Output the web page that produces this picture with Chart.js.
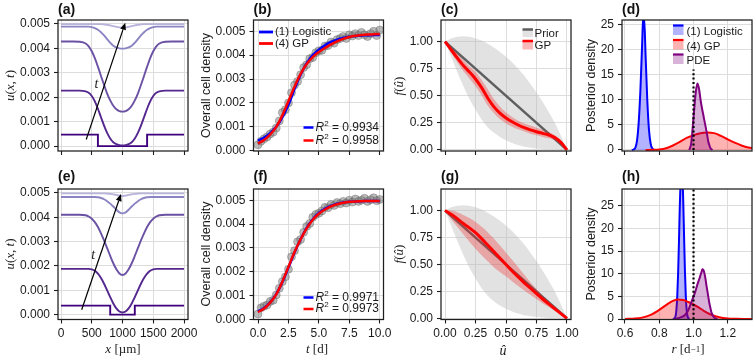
<!DOCTYPE html>
<html><head><meta charset="utf-8">
<script src="https://cdn.jsdelivr.net/npm/chart.js@4.4.0/dist/chart.umd.min.js"></script>
<style>
html,body{margin:0;padding:0;background:#fff;}
#wrap{position:relative;width:756px;height:359px;overflow:hidden;background:#fff;}
canvas{position:absolute;left:0;top:0;}
</style></head><body><div id="wrap">
<canvas id="ca" width="756" height="359"></canvas>
<canvas id="cb" width="756" height="359"></canvas>
<canvas id="cc" width="756" height="359"></canvas>
<canvas id="cd" width="756" height="359"></canvas>
<canvas id="ce" width="756" height="359"></canvas>
<canvas id="cf" width="756" height="359"></canvas>
<canvas id="cg" width="756" height="359"></canvas>
<canvas id="ch" width="756" height="359"></canvas>
</div>
<script>
// ---------------- data ----------------
const pdeX = [0,200,300,400,450,500,550,600,650,700,750,800,850,900,950,1000,1050,1100,1150,1200,1250,1300,1350,1400,1450,1500,1550,1600,1700,1800,2000];
const stepAX = [0,600,600,1400,1400,2000];
const stepAY = [0.00047,0.00047,0,0,0.00047,0.00047];
const a2 = [0.00227,0.00227,0.00227,0.00224,0.00218,0.00205,0.00183,0.00153,0.00118,0.00084,0.00054,0.00031,0.00016,0.00008,0.00004,0.00003,0.00004,0.00008,0.00016,0.00031,0.00054,0.00084,0.00118,0.00153,0.00183,0.00205,0.00218,0.00224,0.00227,0.00227,0.00227];
const a3 = [0.00428,0.00428,0.00427,0.00420,0.00408,0.00388,0.00360,0.00325,0.00287,0.00250,0.00215,0.00187,0.00165,0.00151,0.00143,0.00141,0.00143,0.00151,0.00165,0.00187,0.00215,0.00250,0.00287,0.00325,0.00360,0.00388,0.00408,0.00420,0.00427,0.00428,0.00428];
const a4 = [0.00489,0.00489,0.00489,0.00489,0.00489,0.00487,0.00483,0.00476,0.00466,0.00453,0.00438,0.00423,0.00411,0.00404,0.00400,0.00399,0.00400,0.00404,0.00411,0.00423,0.00438,0.00453,0.00466,0.00476,0.00483,0.00487,0.00489,0.00489,0.00489,0.00489,0.00489];
const a5 = [0.00499,0.00499,0.00499,0.00499,0.00499,0.00499,0.00499,0.00499,0.00499,0.00498,0.00496,0.00494,0.00491,0.00488,0.00486,0.00485,0.00486,0.00488,0.00491,0.00494,0.00496,0.00498,0.00499,0.00499,0.00499,0.00499,0.00499,0.00499,0.00499,0.00499,0.00499];
const stepEX = [0,800,800,1200,1200,2000];
const stepEY = [0.00037,0.00037,0,0,0.00037,0.00037];
const e2 = [0.00188,0.00188,0.00188,0.00188,0.00188,0.00186,0.00180,0.00168,0.00150,0.00127,0.00100,0.00072,0.00046,0.00026,0.00013,0.00009,0.00013,0.00026,0.00046,0.00072,0.00100,0.00127,0.00150,0.00168,0.00180,0.00186,0.00188,0.00188,0.00188,0.00188,0.00188];
const e3 = [0.00410,0.00410,0.00410,0.00408,0.00403,0.00394,0.00380,0.00360,0.00334,0.00305,0.00273,0.00241,0.00211,0.00186,0.00169,0.00163,0.00169,0.00186,0.00211,0.00241,0.00273,0.00305,0.00334,0.00360,0.00380,0.00394,0.00403,0.00408,0.00410,0.00410,0.00410];
const e4 = [0.00483,0.00483,0.00483,0.00483,0.00483,0.00483,0.00483,0.00482,0.00479,0.00474,0.00466,0.00456,0.00444,0.00431,0.00420,0.00416,0.00420,0.00431,0.00444,0.00456,0.00466,0.00474,0.00479,0.00482,0.00483,0.00483,0.00483,0.00483,0.00483,0.00483,0.00483];
const e5 = [0.00498,0.00498,0.00498,0.00498,0.00498,0.00498,0.00498,0.00498,0.00498,0.00498,0.00497,0.00496,0.00494,0.00492,0.00489,0.00487,0.00489,0.00492,0.00494,0.00496,0.00497,0.00498,0.00498,0.00498,0.00498,0.00498,0.00498,0.00498,0.00498,0.00498,0.00498];
const arrowAX = [410,1045], arrowAY = [0.00027,0.00505], tLabelA = [575,0.00253];
const arrowEX = [336,975], arrowEY = [0.0002,0.00495], tLabelE = [525,0.00245];

const obsT = [0,0.25,0.5,0.75,1,1.25,1.5,1.75,2,2.25,2.5,2.75,3,3.25,3.5,3.75,4,4.25,4.5,4.75,5,5.25,5.5,5.75,6,6.25,6.5,6.75,7,7.25,7.5,7.75,8,8.25,8.5,8.75,9,9.25,9.5,9.75,10];
const obsB = [0.00025,0.00040,0.00050,0.00058,0.00070,0.00078,0.00095,0.00125,0.00160,0.00172,0.00200,0.00243,0.00275,0.00290,0.00318,0.00348,0.00360,0.00385,0.00390,0.00410,0.00418,0.00420,0.00438,0.00440,0.00455,0.00450,0.00465,0.00470,0.00478,0.00470,0.00485,0.00480,0.00490,0.00482,0.00495,0.00485,0.00478,0.00490,0.00500,0.00482,0.00505];
const obsF = [0.00022,0.00048,0.00055,0.00060,0.00075,0.00080,0.00102,0.00130,0.00158,0.00178,0.00210,0.00262,0.00288,0.00325,0.00335,0.00365,0.00390,0.00402,0.00428,0.00440,0.00445,0.00455,0.00470,0.00468,0.00482,0.00478,0.00490,0.00485,0.00495,0.00488,0.00500,0.00492,0.00505,0.00495,0.00500,0.00508,0.00495,0.00502,0.00510,0.00498,0.00503];
const fitT = [0,0.5,1,1.5,2,2.5,3,3.5,4,4.5,5,5.5,6,6.5,7,7.5,8,8.5,9,9.5,10];
const logB = [0.00042,0.00055,0.00074,0.00100,0.00140,0.00192,0.00258,0.00318,0.00366,0.00400,0.00423,0.00441,0.00455,0.00465,0.00472,0.00477,0.00480,0.00482,0.00483,0.00484,0.00484];
const gpB = [0.00030,0.00045,0.00068,0.00100,0.00148,0.00207,0.00268,0.00322,0.00363,0.00392,0.00413,0.00430,0.00445,0.00458,0.00468,0.00476,0.00481,0.00484,0.00486,0.00487,0.00488];
const logF = [0.00033,0.00047,0.00071,0.00106,0.00156,0.00217,0.00280,0.00336,0.00384,0.00420,0.00446,0.00464,0.00476,0.00485,0.00490,0.00493,0.00495,0.00496,0.00497,0.00497,0.00497];
const gpF = [0.00030,0.00045,0.00070,0.00105,0.00158,0.00220,0.00282,0.00336,0.00382,0.00418,0.00443,0.00461,0.00474,0.00483,0.00489,0.00493,0.00495,0.00496,0.00497,0.00497,0.00497];
const r2B = ['0.9934','0.9958'];
const r2F = ['0.9971','0.9973'];

const uGrid = [0,0.05,0.1,0.15,0.2,0.25,0.3,0.35,0.4,0.45,0.5,0.55,0.6,0.65,0.7,0.75,0.8,0.85,0.9,0.95,1];
const priorUp = [1.0,1.03,1.045,1.05,1.045,1.03,1.01,0.98,0.945,0.905,0.86,0.81,0.75,0.685,0.61,0.53,0.445,0.35,0.25,0.13,0.0];
const priorLo = [1.0,0.86,0.72,0.59,0.47,0.37,0.28,0.21,0.16,0.12,0.09,0.065,0.045,0.03,0.02,0.013,0.008,0.005,0.003,0.001,0.0];
const priorU = [0,1], priorF = [1,0];
const gpC = [1.0,0.925,0.85,0.78,0.72,0.655,0.575,0.48,0.40,0.34,0.295,0.26,0.23,0.205,0.185,0.168,0.153,0.138,0.115,0.07,0.0];
const gpCUp = [1.0,0.95,0.89,0.83,0.77,0.72,0.645,0.56,0.47,0.40,0.345,0.305,0.27,0.245,0.225,0.205,0.185,0.165,0.135,0.085,0.0];
const gpCLo = [1.0,0.9,0.81,0.73,0.66,0.59,0.505,0.41,0.34,0.285,0.245,0.215,0.19,0.17,0.15,0.135,0.12,0.108,0.09,0.055,0.0];
const gpG = [1.0,0.965,0.925,0.88,0.84,0.795,0.74,0.68,0.62,0.56,0.50,0.44,0.385,0.33,0.28,0.23,0.18,0.135,0.09,0.045,0.0];
const gpGUp = [1.0,1.0,0.985,0.96,0.93,0.895,0.85,0.8,0.74,0.675,0.61,0.545,0.475,0.405,0.335,0.27,0.21,0.155,0.1,0.05,0.0];
const gpGLo = [1.0,0.92,0.85,0.78,0.71,0.645,0.585,0.53,0.475,0.43,0.39,0.345,0.3,0.26,0.22,0.18,0.14,0.105,0.07,0.035,0.0];

const dBlueR = [0.64,0.65,0.66,0.67,0.68,0.69,0.70,0.707,0.715,0.72,0.73,0.74,0.75,0.76,0.77];
const dBlueD = [0,0.1,0.4,1.8,5.5,12,21,27,24,19,10,4,1.2,0.3,0];
const dRedR = [0.72,0.76,0.8,0.84,0.88,0.92,0.96,1.0,1.04,1.08,1.12,1.16,1.2,1.24,1.28,1.32,1.36,1.4];
const dRedD = [0,0.03,0.1,0.35,0.9,1.6,2.4,2.95,3.35,3.5,3.35,2.8,2.1,1.45,0.9,0.5,0.3,0.15];
const dPurR = [0.975,0.985,0.995,1.008,1.016,1.024,1.033,1.041,1.05,1.057,1.065,1.072,1.08,1.086,1.094,1.1,1.11];
const dPurD = [0,1.0,4.4,9.7,12.2,13.2,12,10,8.2,7,5.6,4.4,2.9,1.7,0.8,0.3,0];
const hBlueR = [0.88,0.89,0.895,0.9,0.905,0.91,0.915,0.92,0.925,0.93,0.935,0.94,0.945,0.95,0.955,0.96,0.965,0.975];
const hBlueD = [0,0.2,0.6,2,5,10,17,25,31,34,32,26,18,10.5,5,2,0.6,0];
const hRedR = [0.6,0.65,0.7,0.75,0.8,0.85,0.88,0.91,0.94,0.97,1.0,1.03,1.06,1.1,1.15,1.2,1.25,1.3,1.36];
const hRedD = [0.02,0.08,0.3,0.9,2.0,3.35,4.0,4.3,4.2,3.75,3.2,2.55,1.8,1.0,0.4,0.12,0.04,0.01,0];
const hPurR = [0.89,0.92,0.95,0.97,0.99,1.01,1.02,1.035,1.045,1.053,1.06,1.068,1.076,1.085,1.092,1.1,1.105,1.115,1.125,1.14];
const hPurD = [0,0.3,0.9,2.0,4.0,6.0,7.3,9.0,10.2,11.0,10.6,9.3,7.3,5.2,3.6,2.2,1.4,0.6,0.2,0];
const refDX = [1,1], refDY = [0,16];
const refHX = [1,1], refHY = [-1,30];

// ticks
const xTicksA = [0,500,1000,1500,2000], xLabA = ['0','500','1000','1500','2000'];
const yTicksA = [0,0.001,0.002,0.003,0.004,0.005], yLabA = ['0.000','0.001','0.002','0.003','0.004','0.005'];
const xTicksB = [0,2.5,5,7.5,10], xLabB = ['0.0','2.5','5.0','7.5','10.0'];
const xTicksC = [0,0.25,0.5,0.75,1], xLabC = ['0.00','0.25','0.50','0.75','1.00'];
const yTicksC = [0,0.25,0.5,0.75,1], yLabC = ['0.00','0.25','0.50','0.75','1.00'];
const xTicksD = [0.6,0.8,1.0,1.2], xLabD = ['0.6','0.8','1.0','1.2'];
const yTicksD = [0,5,10,15,20,25], yLabD = ['0','5','10','15','20','25'];

// ---------------- style ----------------
const SANS = '"Liberation Sans", Arial, Helvetica, sans-serif';
const SERIF = '"Liberation Serif", "Times New Roman", serif';
const GRID = '#dddddd', FRAME = '#1e1e1e', TXT = '#1a1a1a';
const TICKFONT = 12;
const purples = ['#3f007d','#54278f','#6a51a3','#8a84c3','#b7b3da'];
const BLUE = '#0000ff', RED = '#ff0000', PURPLE = '#800080';
const BLUEF = 'rgba(0,0,255,0.3)', REDF = 'rgba(255,0,0,0.3)', PURF = 'rgba(128,0,128,0.3)';

const pts = (xs, ys) => xs.map((x, i) => ({x: x, y: ys[i]}));
function line(xs, ys, color, width, order, extra) {
  return Object.assign({data: pts(xs, ys), borderColor: color, borderWidth: width, pointRadius: 0,
    fill: false, order: order, cubicInterpolationMode: 'monotone'}, extra || {});
}
function band(xs, ys, col, order, fill) {
  return {data: pts(xs, ys), borderColor: 'rgba(0,0,0,0)', borderWidth: 0, pointRadius: 0,
    fill: fill, backgroundColor: col, order: order, cubicInterpolationMode: 'monotone'};
}

function rich(ctx, segs, x, y, rot, align) {
  ctx.save();
  ctx.translate(x, y);
  if (rot) ctx.rotate(rot);
  let w = 0;
  segs.forEach(s => { ctx.font = s.f; s.w = ctx.measureText(s.t).width; w += s.w; });
  let cx = align === 'left' ? 0 : (align === 'right' ? -w : -w / 2);
  ctx.textBaseline = 'middle'; ctx.textAlign = 'left';
  segs.forEach(s => { ctx.font = s.f; ctx.fillStyle = s.c || TXT; ctx.fillText(s.t, cx, s.dy || 0); cx += s.w; });
  ctx.restore();
}
const it = (s, n) => ({t: s, f: 'italic ' + (n || 13) + 'px ' + SERIF});
const up = (s, n) => ({t: s, f: (n || 13) + 'px ' + SERIF});
const sans = (s, n) => ({t: s, f: (n || 12) + 'px ' + SANS});

function panelLabel(ctx, s, x, y) {
  ctx.save(); ctx.font = 'bold 14px ' + SANS; ctx.fillStyle = '#111';
  ctx.textBaseline = 'middle'; ctx.textAlign = 'left'; ctx.fillText(s, x, y); ctx.restore();
}
function lineHandle(ctx, x0, x1, y, col, w) {
  ctx.save(); ctx.strokeStyle = col; ctx.lineWidth = w; ctx.beginPath(); ctx.moveTo(x0, y); ctx.lineTo(x1, y); ctx.stroke(); ctx.restore();
}
function patchHandle(ctx, x0, x1, y0, y1, fillCol, lineCol, w) {
  ctx.save(); ctx.fillStyle = fillCol; ctx.fillRect(x0, y0, x1 - x0, y1 - y0);
  ctx.strokeStyle = lineCol; ctx.lineWidth = w; ctx.beginPath(); ctx.moveTo(x0, y0); ctx.lineTo(x1, y0); ctx.stroke(); ctx.restore();
}
function arrow(c, ax, ay, tl) {
  const ctx = c.ctx, xs = c.scales.x, ys = c.scales.y;
  const x0 = xs.getPixelForValue(ax[0]), y0 = ys.getPixelForValue(ay[0]);
  const x1 = xs.getPixelForValue(ax[1]), y1 = ys.getPixelForValue(ay[1]);
  const a = Math.atan2(y1 - y0, x1 - x0), L = 7, W = 3;
  const co = Math.cos(a), si = Math.sin(a);
  ctx.save(); ctx.strokeStyle = '#000'; ctx.fillStyle = '#000'; ctx.lineWidth = 1.2;
  ctx.beginPath(); ctx.moveTo(x0, y0); ctx.lineTo(x1 - L * co, y1 - L * si); ctx.stroke();
  ctx.beginPath(); ctx.moveTo(x1, y1);
  ctx.lineTo(x1 - L * co + W * si, y1 - L * si - W * co);
  ctx.lineTo(x1 - L * co - W * si, y1 - L * si + W * co); ctx.closePath(); ctx.fill();
  ctx.restore();
  rich(ctx, [it('t', 14)], xs.getPixelForValue(tl[0]), ys.getPixelForValue(tl[1]), 0, 'center');
}

const framePlugin = {
  id: 'frame',
  afterDraw(chart) {
    const {ctx, chartArea: a} = chart;
    ctx.save(); ctx.strokeStyle = FRAME; ctx.lineWidth = 1.25;
    ctx.strokeRect(a.left, a.top, a.right - a.left, a.bottom - a.top); ctx.restore();
  }
};

function makeChart(id, box, xr, yr, datasets, extra) {
  const xcfg = {
    type: 'linear', min: xr.min, max: xr.max,
    afterBuildTicks: s => { s.ticks = xr.ticks.map(v => ({value: v})); },
    afterFit: s => { s.height = 359 - box.b; },
    grid: {color: GRID, lineWidth: 1, tickLength: 4, tickColor: FRAME, tickWidth: 1.1, drawTicks: true},
    border: {display: false},
    ticks: {font: {family: SANS, size: TICKFONT}, color: TXT, padding: 3, maxRotation: 0, minRotation: 0, autoSkip: false,
      callback: (v, i) => xr.show ? xr.labels[i] : ''}
  };
  const ycfg = {
    type: 'linear', min: yr.min, max: yr.max,
    afterBuildTicks: s => { s.ticks = yr.ticks.map(v => ({value: v})); },
    afterFit: s => { s.width = box.l; },
    grid: {color: GRID, lineWidth: 1, tickLength: 4, tickColor: FRAME, tickWidth: 1.1, drawTicks: true},
    border: {display: false},
    ticks: {font: {family: SANS, size: TICKFONT}, color: TXT, padding: 4, autoSkip: false,
      callback: (v, i) => yr.labels[i]}
  };
  return new Chart(document.getElementById(id), {
    type: 'line',
    data: {datasets: datasets},
    options: {
      responsive: false, animation: false, events: [],
      layout: {padding: {left: 0, top: box.t, right: 756 - box.r, bottom: 0}},
      plugins: {legend: {display: false}, tooltip: {enabled: false}, filler: {propagate: false}},
      scales: {x: xcfg, y: ycfg}
    },
    plugins: [framePlugin, {id: 'extra', afterDraw: c => extra(c, c.ctx)}]
  });
}

const TOP = 20, BOT = 151, TOP2 = 189, BOT2 = 319.5;
const colA = {l: 58, r: 188}, colB = {l: 253.5, r: 383.5}, colC = {l: 441, r: 571}, colD = {l: 622, r: 752};
const box = (c, t, b) => ({l: c.l, r: c.r, t: t, b: b});
const rngA = {min: -49, max: 2065}, rngB = {min: -0.37, max: 10.31}, rngC = {min: -0.033, max: 1.033}, rngD = {min: 0.5825, max: 1.3414};
const yA = {min: -0.0002, max: 0.00516, ticks: yTicksA, labels: yLabA};
const yB = {min: -0.00001, max: 0.00547, ticks: yTicksA, labels: yLabA};
const yC = {min: -0.01, max: 1.2, ticks: yTicksC, labels: yLabC};
const yD = {min: -0.2, max: 25.86, ticks: yTicksD, labels: yLabD};
const yH = {min: -0.11, max: 28.7, ticks: yTicksD, labels: yLabD};

function pdeSets(sx, sy, c2, c3, c4, c5) {
  return [
    line(sx, sy, purples[0], 1.9, 5, {cubicInterpolationMode: 'default', tension: 0}),
    line(pdeX, c2, purples[1], 1.9, 4),
    line(pdeX, c3, purples[2], 1.9, 3),
    line(pdeX, c4, purples[3], 1.9, 2),
    line(pdeX, c5, purples[4], 1.9, 1)
  ];
}
const uxtTitle = [it('u'), up('('), it('x'), up(', '), it('t'), up(')')];

// (a)
makeChart('ca', box(colA, TOP, BOT), Object.assign({ticks: xTicksA, labels: xLabA, show: false}, rngA), yA,
  pdeSets(stepAX, stepAY, a2, a3, a4, a5), (c, ctx) => {
    arrow(c, arrowAX, arrowAY, tLabelA);
    panelLabel(ctx, '(a)', 58, 10);
    rich(ctx, uxtTitle, 11, 85.5, -Math.PI / 2, 'center');
  });
// (e)
makeChart('ce', box(colA, TOP2, BOT2), Object.assign({ticks: xTicksA, labels: xLabA, show: true}, rngA), yA,
  pdeSets(stepEX, stepEY, e2, e3, e4, e5), (c, ctx) => {
    arrow(c, arrowEX, arrowEY, tLabelE);
    panelLabel(ctx, '(e)', 58, 177);
    rich(ctx, uxtTitle, 11, 254, -Math.PI / 2, 'center');
    rich(ctx, [it('x'), up(' [µm]')], 123, 350, 0, 'center');
  });

function fitSets(obs, lg, gp) {
  return [
    line(obsT, obs, 'rgba(0,0,0,0)', 0, 9, {showLine: false, pointRadius: 4, pointBackgroundColor: 'rgba(120,120,120,0.5)', pointBorderColor: 'rgba(90,90,90,0.45)', pointBorderWidth: 0.8}),
    line(fitT, lg, BLUE, 2.5, 2),
    line(fitT, gp, RED, 2.5, 1)
  ];
}
function r2Legend(ctx, vals, y1, y2) {
  lineHandle(ctx, 303.5, 313.5, y1, BLUE, 2.5);
  lineHandle(ctx, 303.5, 313.5, y2, RED, 2.5);
  [y1, y2].forEach((y, i) => rich(ctx, [{t: 'R', f: 'italic 12px ' + SANS}, {t: '2', f: '8px ' + SANS, dy: -4}, sans(' = ' + vals[i], 12)], 315.5, y, 0, 'left'));
}
const ocdTitle = [sans('Overall cell density', 12.5)];
// (b)
makeChart('cb', box(colB, TOP, BOT), Object.assign({ticks: xTicksB, labels: xLabB, show: false}, rngB), yB,
  fitSets(obsB, logB, gpB), (c, ctx) => {
    panelLabel(ctx, '(b)', 253.5, 10);
    rich(ctx, ocdTitle, 206.5, 85.5, -Math.PI / 2, 'center');
    lineHandle(ctx, 259, 273, 32, BLUE, 2.8);
    lineHandle(ctx, 259, 273, 43.5, RED, 2.8);
    rich(ctx, [sans('(1) Logistic', 11.5)], 275, 32, 0, 'left');
    rich(ctx, [sans('(4) GP', 11.5)], 275, 43.5, 0, 'left');
    r2Legend(ctx, r2B, 127.5, 140.5);
  });
// (f)
makeChart('cf', box(colB, TOP2, BOT2), Object.assign({ticks: xTicksB, labels: xLabB, show: true}, rngB), yB,
  fitSets(obsF, logF, gpF), (c, ctx) => {
    panelLabel(ctx, '(f)', 253.5, 177);
    rich(ctx, ocdTitle, 206.5, 254, -Math.PI / 2, 'center');
    rich(ctx, [it('t'), up(' [d]')], 317, 350, 0, 'center');
    r2Legend(ctx, r2F, 297.5, 309);
  });

function funSets(gp, gu, gl) {
  return [
    band(uGrid, priorUp, 'rgba(185,185,185,0.42)', 7, '+1'),
    band(uGrid, priorLo, 'rgba(0,0,0,0)', 6, false),
    line(priorU, priorF, '#5e5e5e', 2.5, 5, {cubicInterpolationMode: 'default'}),
    band(uGrid, gu, 'rgba(240,40,40,0.33)', 4, '+1'),
    band(uGrid, gl, 'rgba(0,0,0,0)', 3, false),
    line(uGrid, gp, RED, 3, 1)
  ];
}
const fuTitle = [it('f'), up('('), it('û'), up(')')];
// (c)
makeChart('cc', box(colC, TOP, BOT), Object.assign({ticks: xTicksC, labels: xLabC, show: false}, rngC), yC,
  funSets(gpC, gpCUp, gpCLo), (c, ctx) => {
    panelLabel(ctx, '(c)', 441, 10);
    rich(ctx, fuTitle, 400, 86, -Math.PI / 2, 'center');
    patchHandle(ctx, 522.5, 533, 29.5, 37, 'rgba(185,185,185,0.42)', '#5e5e5e', 2.5);
    patchHandle(ctx, 522.5, 533, 41, 49.5, 'rgba(240,40,40,0.33)', RED, 2.5);
    rich(ctx, [sans('Prior', 11.5)], 534.5, 33.5, 0, 'left');
    rich(ctx, [sans('GP', 11.5)], 534.5, 45.5, 0, 'left');
  });
// (g)
makeChart('cg', box(colC, TOP2, BOT2), Object.assign({ticks: xTicksC, labels: xLabC, show: true}, rngC), yC,
  funSets(gpG, gpGUp, gpGLo), (c, ctx) => {
    panelLabel(ctx, '(g)', 441, 177);
    rich(ctx, fuTitle, 400, 254, -Math.PI / 2, 'center');
    rich(ctx, [it('û', 14)], 503, 351, 0, 'center');
  });

function denSets(br, bd, rr, rd, pr, pd, qx, qy) {
  return [
    line(br, bd, BLUE, 2, 4, {fill: 'origin', backgroundColor: BLUEF}),
    line(rr, rd, RED, 2, 3, {fill: 'origin', backgroundColor: REDF}),
    line(pr, pd, PURPLE, 2, 2, {fill: 'origin', backgroundColor: PURF, cubicInterpolationMode: 'default', tension: 0.25}),
    line(qx, qy, '#000', 2.2, 0, {borderDash: [2, 2.4], cubicInterpolationMode: 'default'})
  ];
}
const pdTitle = [sans('Posterior density', 12.5)];
// (d)
makeChart('cd', box(colD, TOP, BOT), Object.assign({ticks: xTicksD, labels: xLabD, show: false}, rngD), yD,
  denSets(dBlueR, dBlueD, dRedR, dRedD, dPurR, dPurD, refDX, refDY), (c, ctx) => {
    panelLabel(ctx, '(d)', 622, 10);
    rich(ctx, pdTitle, 591.5, 85.5, -Math.PI / 2, 'center');
    const ent = [['(1) Logistic', BLUE, BLUEF, 31], ['(4) GP', RED, REDF, 45.5], ['PDE', PURPLE, PURF, 60]];
    ent.forEach(e => {
      patchHandle(ctx, 673, 683.5, e[3] - 5.5, e[3] + 4, e[2], e[1], 2.2);
      rich(ctx, [sans(e[0], 11.5)], 686.5, e[3] + 1, 0, 'left');
    });
  });
// (h)
makeChart('ch', box(colD, TOP2, BOT2), Object.assign({ticks: xTicksD, labels: xLabD, show: true}, rngD), yH,
  denSets(hBlueR, hBlueD, hRedR, hRedD, hPurR, hPurD, refHX, refHY), (c, ctx) => {
    panelLabel(ctx, '(h)', 622, 177);
    rich(ctx, pdTitle, 591.5, 254, -Math.PI / 2, 'center');
    rich(ctx, [it('r'), up(' [d'), up('−1', 9), up(']')], 688, 350, 0, 'center');
  });
</script>
</body></html>
